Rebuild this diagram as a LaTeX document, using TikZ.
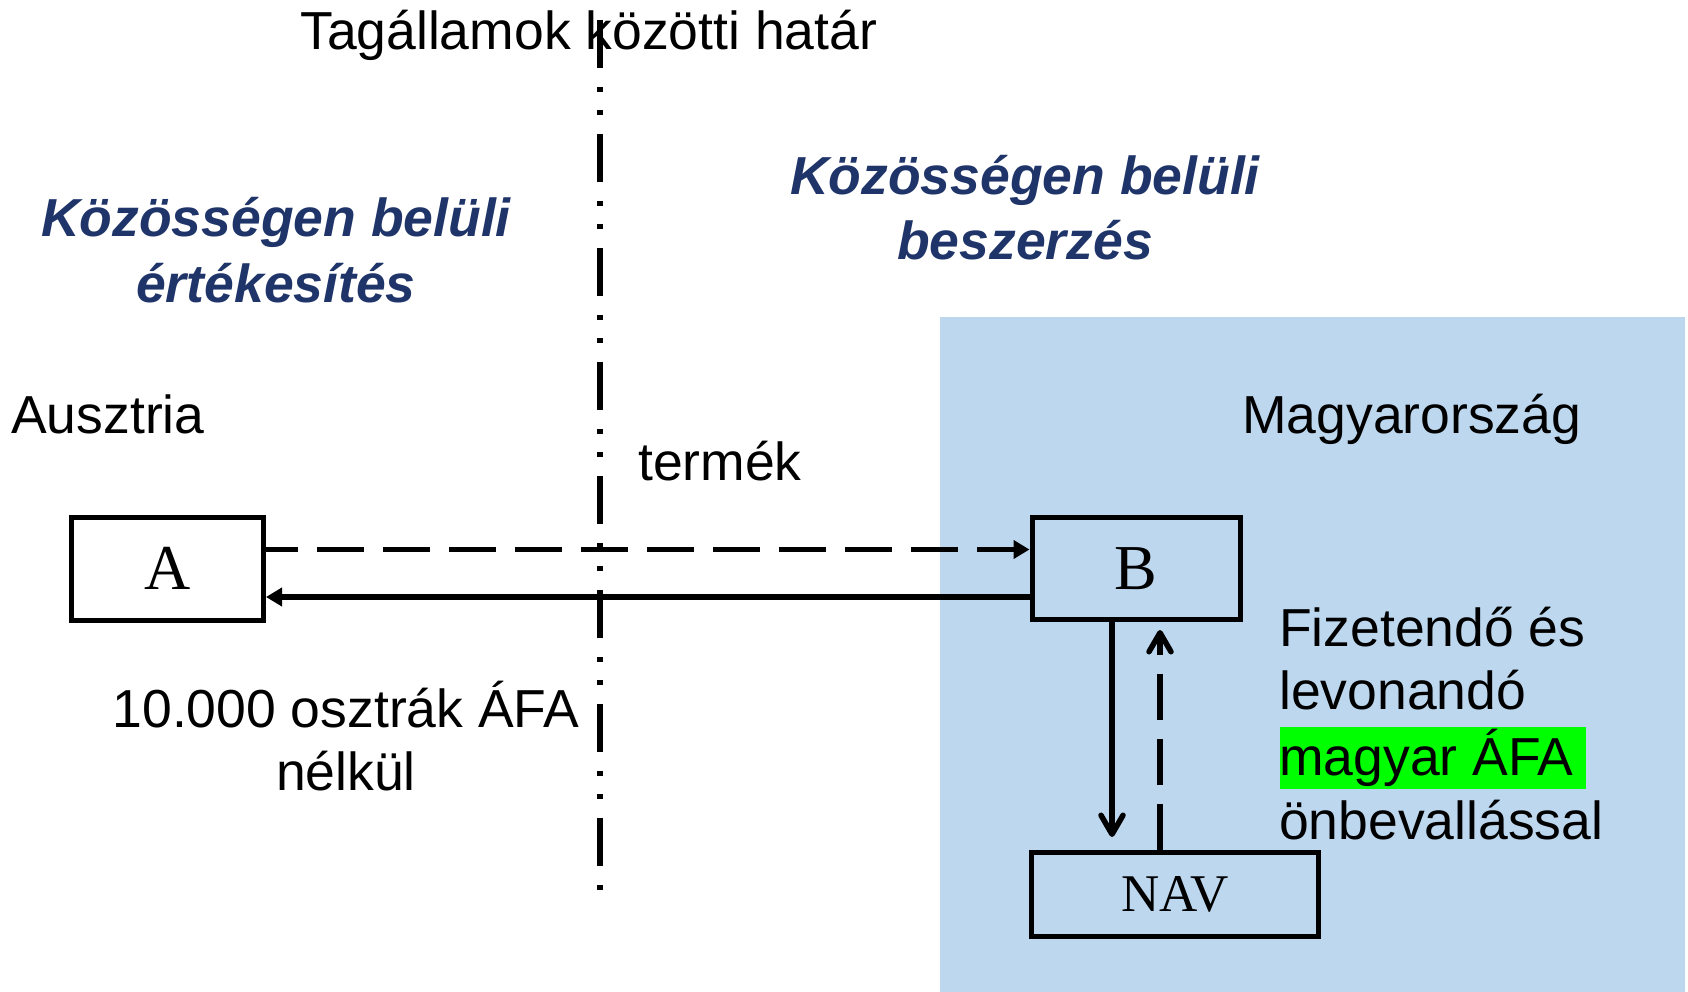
\documentclass[tikz,border=0pt]{standalone}
\usepackage{fontspec}
\setmainfont{Liberation Sans}
\newfontfamily\boxfont{Liberation Serif}
\usetikzlibrary{arrows.meta}
\definecolor{bgblue}{HTML}{BDD7EE}
\definecolor{navy}{HTML}{1F3469}
\definecolor{hlgreen}{HTML}{00FF00}
\begin{document}
\begin{tikzpicture}[x=1pt,y=-1pt,
  txt/.style={font=\fontsize{53.5}{63}\selectfont, inner sep=0pt, anchor=base west},
  ctxt/.style={font=\fontsize{53.5}{63}\selectfont, inner sep=0pt, anchor=base},
  head/.style={font=\fontsize{53.5}{63}\selectfont\bfseries\itshape, text=navy, inner sep=0pt, anchor=base},
  entity/.style={draw, line width=5pt, rectangle, inner sep=0pt, font=\boxfont\fontsize{64}{64}\selectfont},
  conn/.style={line width=5.5pt},
  dashconn/.style={line width=5.5pt, dash pattern=on 47pt off 19pt},
  border/.style={line width=6pt, dash pattern=on 48pt off 19pt on 5pt off 18pt on 5pt off 19pt},
  tri/.style={-{Triangle[length=16pt,width=18pt]}},
  barb/.style={-{Straight Barb[length=19pt,width=22pt,round]}},
]
\useasboundingbox (0,0) rectangle (1688,992);
\fill[bgblue] (940,317) rectangle (1685,992);

\node[txt] (title) at (300,50) {Tagállamok közötti határ};
\node[txt] (aus) at (11,433) {Ausztria};
\node[txt] (termek) at (638,480) {termék};
\node[txt] (hu) at (1242,433) {Magyarország};
\node[head] (ert1) at (276,237) {Közösségen belüli};
\node[head] (ert2) at (276,302) {értékesítés};
\node[head] (besz1) at (1025,195) {Közösségen belüli};
\node[head] (besz2) at (1025,259) {beszerzés};
\node[ctxt] (ar1) at (346,727) {10.000 osztrák ÁFA};
\node[ctxt] (ar2) at (346,790) {nélkül};
\fill[hlgreen] (1280,727) rectangle (1586,789);
\node[txt] (f1) at (1279,646) {Fizetendő és};
\node[txt] (f2) at (1279,709) {levonandó};
\node[txt] (f3) at (1279,775) {magyar ÁFA};
\node[txt] (f4) at (1279,839) {önbevallással};

\draw[border] (600,20) -- (600,891);

\node[entity, minimum width=192pt, minimum height=103pt] (A) at (167.5,568.5) {A};
\node[entity, minimum width=208pt, minimum height=102pt] (B) at (1136,568.5) {B};
\node[entity, minimum width=287pt, minimum height=84pt, font=\boxfont\fontsize{53}{53}\selectfont] (NAV) at (1175,894.5) {NAV};

\draw[dashconn, dash phase=15pt, tri] ([yshift=19pt]A.east) -- ([yshift=19pt]B.west);
\draw[conn, tri] ([yshift=-28.5pt]B.west) -- ([yshift=-28.5pt]A.east);
\draw[conn, barb, shorten >=13pt] ([xshift=-24pt]B.south) -- ([xshift=-24pt]B.south |- NAV.north);
\draw[dashconn, dash pattern=on 46pt off 19pt, barb, shorten >=8pt] ([xshift=24pt]B.south |- NAV.north) -- ([xshift=24pt]B.south);
\end{tikzpicture}
\end{document}
